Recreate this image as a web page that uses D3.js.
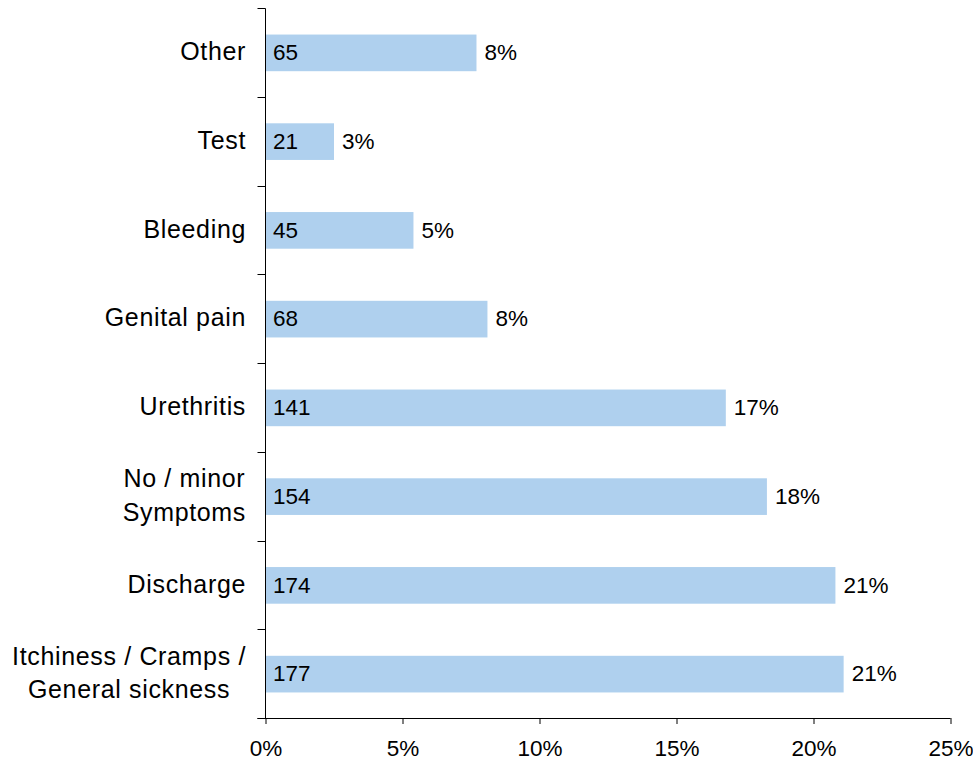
<!DOCTYPE html>
<html>
<head>
<meta charset="utf-8">
<script src="https://cdn.jsdelivr.net/npm/d3@7/dist/d3.min.js"></script>
<style>
  html, body { margin: 0; padding: 0; background: #fff; }
  svg { display: block; font-family: "Liberation Sans", Arial, sans-serif; }
</style>
</head>
<body>
<svg id="chart" width="973" height="760"></svg>
<script>
// Reasons for visit, top to bottom
const categories = [
  ["Other"],
  ["Test"],
  ["Bleeding"],
  ["Genital pain"],
  ["Urethritis"],
  ["No / minor", "Symptoms"],
  ["Discharge"],
  ["Itchiness / Cramps /", "General sickness"]
];
const counts = [65, 21, 45, 68, 141, 154, 174, 177];
const percents = [7.7, 2.5, 5.4, 8.1, 16.8, 18.3, 20.8, 21.1];
const xTicks = [0, 5, 10, 15, 20, 25];

const svg = d3.select("#chart");
const plotLeft = 265.5, plotRight = 950.5, plotTop = 8.5, plotBottom = 718.5;

const x = d3.scaleLinear().domain([0, 25]).range([plotLeft, plotRight]);
const y = d3.scaleBand().domain(d3.range(categories.length)).range([plotTop, plotBottom]).padding(0);
const barH = y.bandwidth() * 0.413;

const rows = categories.map((c, i) => ({ lines: c, count: counts[i], pct: percents[i], i }));

// bars
svg.append("g").selectAll("rect").data(rows).join("rect")
  .attr("x", x(0))
  .attr("y", d => y(d.i) + (y.bandwidth() - barH) / 2)
  .attr("width", d => x(d.pct) - x(0))
  .attr("height", barH)
  .attr("fill", "#afd0ee");

// counts inside bars
svg.append("g").selectAll("text").data(rows).join("text")
  .attr("x", x(0) + 7.5)
  .attr("y", d => y(d.i) + y.bandwidth() / 2)
  .attr("dy", "0.32em")
  .attr("font-size", 22.5)
  .attr("fill", "#000")
  .text(d => d.count);

// percentage labels at bar ends
svg.append("g").selectAll("text").data(rows).join("text")
  .attr("x", d => x(d.pct) + 8)
  .attr("y", d => y(d.i) + y.bandwidth() / 2)
  .attr("dy", "0.32em")
  .attr("font-size", 22.5)
  .attr("fill", "#000")
  .text(d => Math.round(d.pct) + "%");

// x axis
const xAxis = svg.append("g")
  .attr("transform", `translate(0,${plotBottom - 0.5})`)
  .call(d3.axisBottom(x).tickValues(xTicks).tickSize(6).tickSizeOuter(0).tickFormat(d => d + "%"));
xAxis.select(".domain").attr("stroke", "#000").attr("d", `M${plotLeft - 8},0.5H${plotRight}`);
xAxis.selectAll(".tick line").attr("stroke", "#000");
xAxis.selectAll(".tick text")
  .attr("font-size", 22.5)
  .attr("font-family", "Liberation Sans, Arial, sans-serif")
  .attr("fill", "#000")
  .attr("dy", 0)
  .attr("y", 38);

// y axis line and boundary ticks
const yAxis = svg.append("g");
yAxis.append("line")
  .attr("x1", plotLeft).attr("x2", plotLeft)
  .attr("y1", plotTop).attr("y2", plotBottom)
  .attr("stroke", "#000");
const bounds = d3.range(categories.length + 1).map(i => plotTop + i * y.step());
yAxis.selectAll("line.tk").data(bounds).join("line")
  .attr("class", "tk")
  .attr("x1", plotLeft - 8).attr("x2", plotLeft)
  .attr("y1", d => Math.round(d - 0.5) + 0.5).attr("y2", d => Math.round(d - 0.5) + 0.5)
  .attr("stroke", "#000");

// category labels (multi-line labels centred within their block)
const labelSize = 25, lineGap = 33.5, labelRight = 246;
const lab = svg.append("g");
rows.forEach(d => {
  const g = lab.append("g");
  const cy = y(d.i) + y.bandwidth() / 2;
  const n = d.lines.length;
  const texts = d.lines.map((t, k) => g.append("text")
    .attr("font-size", labelSize)
    .attr("letter-spacing", 0.65)
    .attr("fill", "#000")
    .attr("y", cy + (k - (n - 1) / 2) * lineGap)
    .attr("dy", "0.285em")
    .text(t));
  const widths = texts.map(t => t.node().getComputedTextLength());
  const w = d3.max(widths);
  const cx = labelRight - w / 2;
  texts.forEach(t => t.attr("x", cx).attr("text-anchor", "middle"));
});
</script>
</body>
</html>
